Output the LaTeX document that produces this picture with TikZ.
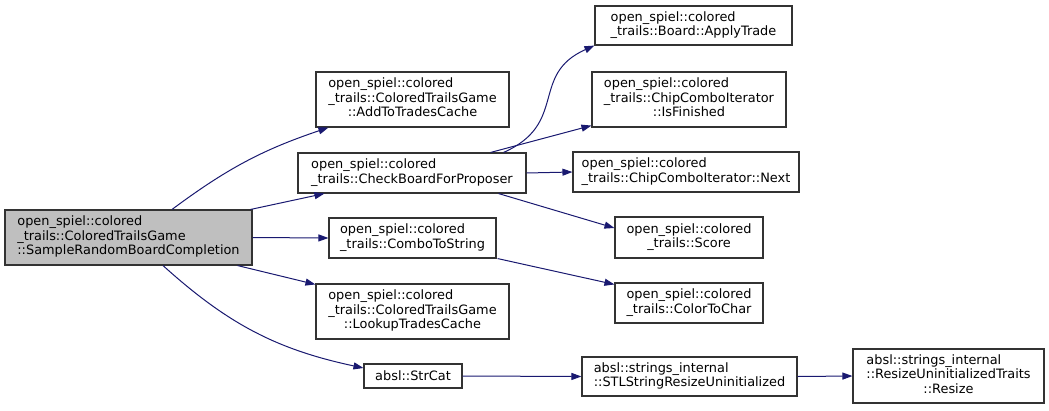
\documentclass[tikz,border=0pt]{standalone}
\usepackage{fontspec}
\setmainfont{DejaVu Sans}
\usetikzlibrary{arrows.meta}
\definecolor{edgec}{HTML}{191970}
\definecolor{mainfill}{HTML}{BFBFBF}
\definecolor{bordc}{HTML}{333333}
\newcommand{\lc}[1]{\multicolumn{1}{@{}c@{}}{#1}}
\newcommand{\tl}[1]{\begin{tabular}{@{}l@{}}#1\end{tabular}}
\begin{document}
\begin{tikzpicture}[x=1pt,y=-1pt,
  fnode/.style={draw=bordc, line width=1.1pt, inner sep=0pt, fill=white,
    font=\fontsize{12.9}{14.5}\selectfont},
  calledge/.style={draw=edgec, line width=1pt, -{Triangle[length=10pt,width=7pt]}}]
\useasboundingbox (0,0) rectangle (1049,410);

\node[fnode, fill=mainfill, minimum width=247pt, minimum height=55pt] (main) at (128.5,237.5)
  {\tl{open\_spiel::colored\\\_trails::ColoredTrailsGame\\\lc{::SampleRandomBoardCompletion}}};
\node[fnode, minimum width=193pt, minimum height=55pt] (add) at (412.5,99.5)
  {\tl{open\_spiel::colored\\\_trails::ColoredTrailsGame\\\lc{::AddToTradesCache}}};
\node[fnode, minimum width=228pt, minimum height=40pt] (check) at (412,173)
  {\tl{open\_spiel::colored\\\lc{\_trails::CheckBoardForProposer}}};
\node[fnode, minimum width=167pt, minimum height=40pt] (combo) at (412.5,238)
  {\tl{open\_spiel::colored\\\lc{\_trails::ComboToString}}};
\node[fnode, minimum width=193pt, minimum height=55pt] (lookup) at (412.5,311.5)
  {\tl{open\_spiel::colored\\\_trails::ColoredTrailsGame\\\lc{::LookupTradesCache}}};
\node[fnode, minimum width=98pt, minimum height=24pt] (strcat) at (413,376)
  {absl::StrCat};
\node[fnode, minimum width=197pt, minimum height=39pt] (apply) at (693.5,25.5)
  {\tl{open\_spiel::colored\\\lc{\_trails::Board::ApplyTrade}}};
\node[fnode, minimum width=194pt, minimum height=55pt] (isfin) at (689,99.5)
  {\tl{open\_spiel::colored\\\_trails::ChipComboIterator\\\lc{::IsFinished}}};
\node[fnode, minimum width=226pt, minimum height=40pt] (next) at (686,172)
  {\tl{open\_spiel::colored\\\lc{\_trails::ChipComboIterator::Next}}};
\node[fnode, minimum width=148pt, minimum height=41pt] (score) at (689,237.5)
  {\tl{open\_spiel::colored\\\lc{\_trails::Score}}};
\node[fnode, minimum width=148pt, minimum height=40pt] (color) at (689,303)
  {\tl{open\_spiel::colored\\\lc{\_trails::ColorToChar}}};
\node[fnode, minimum width=215pt, minimum height=39pt] (stl) at (689.5,376.5)
  {\tl{absl::strings\_internal\\\lc{::STLStringResizeUninitialized}}};
\node[fnode, minimum width=191pt, minimum height=54pt] (resize) at (948.5,376)
  {\tl{absl::strings\_internal\\::ResizeUninitializedTraits\\\lc{::Resize}}};

\draw[calledge] ([xshift=43.5pt]main.north) to[bend left=9] ([xshift=13pt]add.south west);
\draw[calledge] ([xshift=-2pt]main.north east) -- ([xshift=27pt]check.south west);
\draw[calledge] (main.east) -- (combo.west);
\draw[calledge] ([xshift=-15pt]main.south east) -- ([yshift=-1pt]lookup.north west);
\draw[calledge] ([xshift=34.5pt]main.south) to[bend right=15] ([yshift=8pt]strcat.west);

\draw[calledge] ([xshift=-23pt]check.north east) to[out=24,in=204,looseness=1.3] (apply.south west);
\draw[calledge] ([xshift=-36pt]check.north east) -- ([yshift=2pt]isfin.south west);
\draw[calledge] (check.east) -- (next.west);
\draw[calledge] ([xshift=-28pt]check.south east) -- ([yshift=9.5pt]score.west);
\draw[calledge] ([xshift=1pt]combo.south east) -- ([yshift=-2pt]color.north west);
\draw[calledge] (strcat.east) -- (stl.west);
\draw[calledge] (stl.east) -- (resize.west);
\end{tikzpicture}
\end{document}
